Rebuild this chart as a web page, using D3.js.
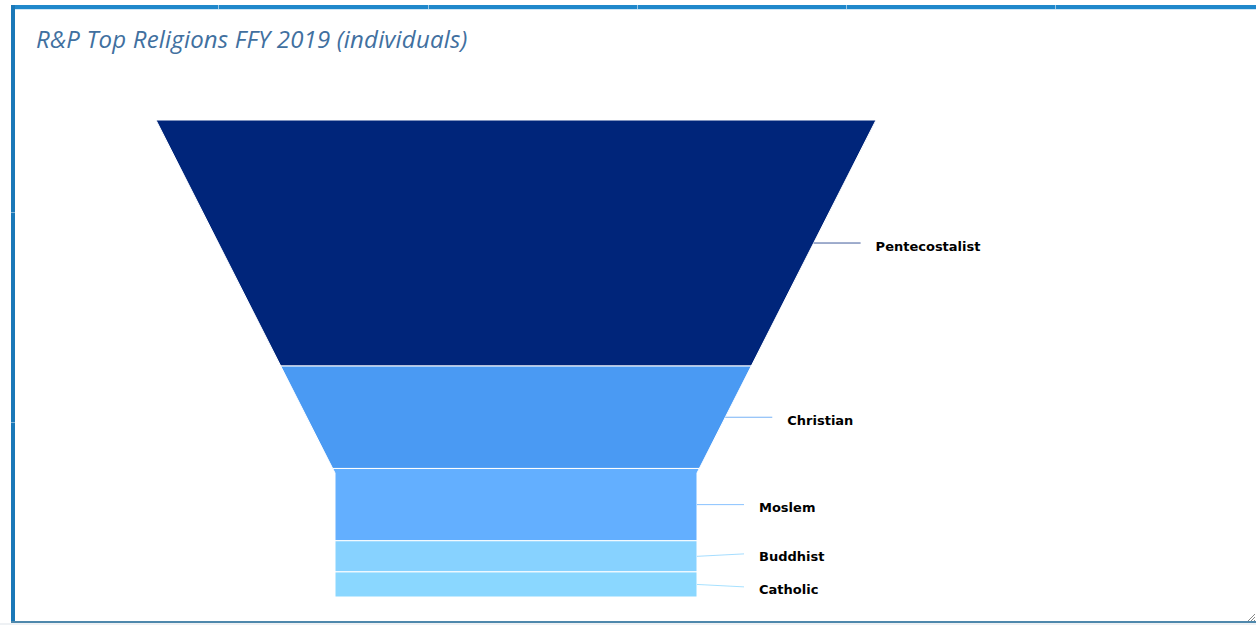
<!DOCTYPE html>
<html>
<head>
<meta charset="utf-8">
<script src="https://cdn.jsdelivr.net/npm/d3@7"></script>
<style>
  body { margin: 0; background: #fff; }
  svg { display: block; }
</style>
</head>
<body>
<script>
// funnel data (individuals)
var religions = ['Pentecostalist', 'Christian', 'Moslem', 'Buddhist', 'Catholic'];
var counts = [7350, 3060, 2160, 930, 750];
var colors = ['#00257a', '#4a9af3', '#63afff', '#87d2ff', '#8ad7ff'];
var title = 'R&P Top Religions FFY 2019 (individuals)';

var w = 1256, h = 625;
var funnel = { cx: 516, top: 120, bottom: 597, width: 720, neckWidth: 362, neckY: 473 };

var svg = d3.select('body').append('svg')
    .attr('width', w)
    .attr('height', h);

// panel frame
var frame = svg.append('g').attr('class', 'frame');
frame.append('rect').attr('x', 0).attr('y', 623).attr('width', w).attr('height', 2).attr('fill', '#eef1f4');
frame.append('rect').attr('x', 11).attr('y', 5).attr('width', w - 11).attr('height', 4).attr('fill', '#2088cb');
frame.append('rect').attr('x', 11).attr('y', 9).attr('width', w - 11).attr('height', 1).attr('fill', '#cfe6f5');
frame.append('rect').attr('x', 11).attr('y', 5).attr('width', 4).attr('height', 618).attr('fill', '#1a78b8');
frame.append('rect').attr('x', 11).attr('y', 621).attr('width', w - 11).attr('height', 2).attr('fill', '#4f88ac');
// little seams in the top border
[218, 428, 637, 846, 1055].forEach(function(x) {
  frame.append('rect').attr('x', x).attr('y', 5).attr('width', 1).attr('height', 4).attr('fill', '#9cc8e6');
});
[212, 422].forEach(function(y) {
  frame.append('rect').attr('x', 11).attr('y', y).attr('width', 4).attr('height', 1).attr('fill', '#7fb2d6');
});
// resize grip
var grip = frame.append('g').attr('stroke', '#888').attr('stroke-width', 1);
[0, 3, 6].forEach(function(o) {
  grip.append('line').attr('x1', 1248 + o).attr('y1', 621).attr('x2', 1255).attr('y2', 614 + o);
});

svg.append('text')
    .attr('x', 36)
    .attr('y', 48)
    .attr('font-family', 'Open Sans')
    .attr('font-style', 'italic')
    .attr('font-size', 24)
    .attr('letter-spacing', 0.18)
    .attr('fill', '#41709f')
    .text(title);

// scales
var total = d3.sum(counts);
var y = d3.scaleLinear().domain([0, total]).range([funnel.top, funnel.bottom]);
var halfW = d3.scaleLinear()
    .domain([funnel.top, funnel.neckY])
    .range([funnel.width / 2, funnel.neckWidth / 2])
    .clamp(true);

var cum = 0;
var segs = religions.map(function(name, i) {
  var s = { name: name, value: counts[i], color: colors[i], v0: cum, v1: cum + counts[i] };
  cum += counts[i];
  s.y0 = y(s.v0);
  s.y1 = y(s.v1);
  s.ym = (s.y0 + s.y1) / 2;
  return s;
});

function segPoints(s) {
  var ys = [s.y0];
  if (s.y0 < funnel.neckY && s.y1 > funnel.neckY) ys.push(funnel.neckY);
  ys.push(s.y1);
  var right = ys.map(function(yy) { return [funnel.cx + halfW(yy), yy]; });
  var left = ys.slice().reverse().map(function(yy) { return [funnel.cx - halfW(yy), yy]; });
  return right.concat(left);
}

svg.append('g').attr('class', 'segments')
  .selectAll('path')
  .data(segs)
  .enter().append('path')
    .attr('d', function(d) { return 'M' + segPoints(d).join('L') + 'Z'; })
    .attr('fill', function(d) { return d.color; })
    .attr('stroke', '#fff')
    .attr('stroke-width', 1);

// label positions with a simple overlap push
var minGap = 33;
segs.forEach(function(s) { s.ly = s.ym; });
for (var i = 1; i < segs.length; i++) {
  var gap = segs[i].ly - segs[i - 1].ly;
  if (gap < minGap) {
    var push = (minGap - gap) / 2;
    segs[i - 1].ly -= push;
    segs[i].ly += push;
  }
}

var connLen = 47;
var labels = svg.append('g').attr('class', 'labels');
labels.selectAll('line')
  .data(segs)
  .enter().append('line')
    .attr('x1', function(d) { return funnel.cx + halfW(d.ym); })
    .attr('y1', function(d) { return d.ym; })
    .attr('x2', function(d) { return funnel.cx + halfW(d.ym) + connLen; })
    .attr('y2', function(d) { return d.ly; })
    .attr('stroke', function(d) { return d.color; })
    .attr('stroke-width', 1)
    .attr('stroke-opacity', 0.75);

labels.selectAll('text')
  .data(segs)
  .enter().append('text')
    .attr('x', function(d) { return funnel.cx + halfW(d.ym) + connLen + 15; })
    .attr('y', function(d) { return d.ly + 7.5; })
    .attr('font-family', 'DejaVu Sans')
    .attr('font-weight', 'bold')
    .attr('font-size', 13)
    .attr('fill', '#000')
    .text(function(d) { return d.name; });
</script>
</body>
</html>
